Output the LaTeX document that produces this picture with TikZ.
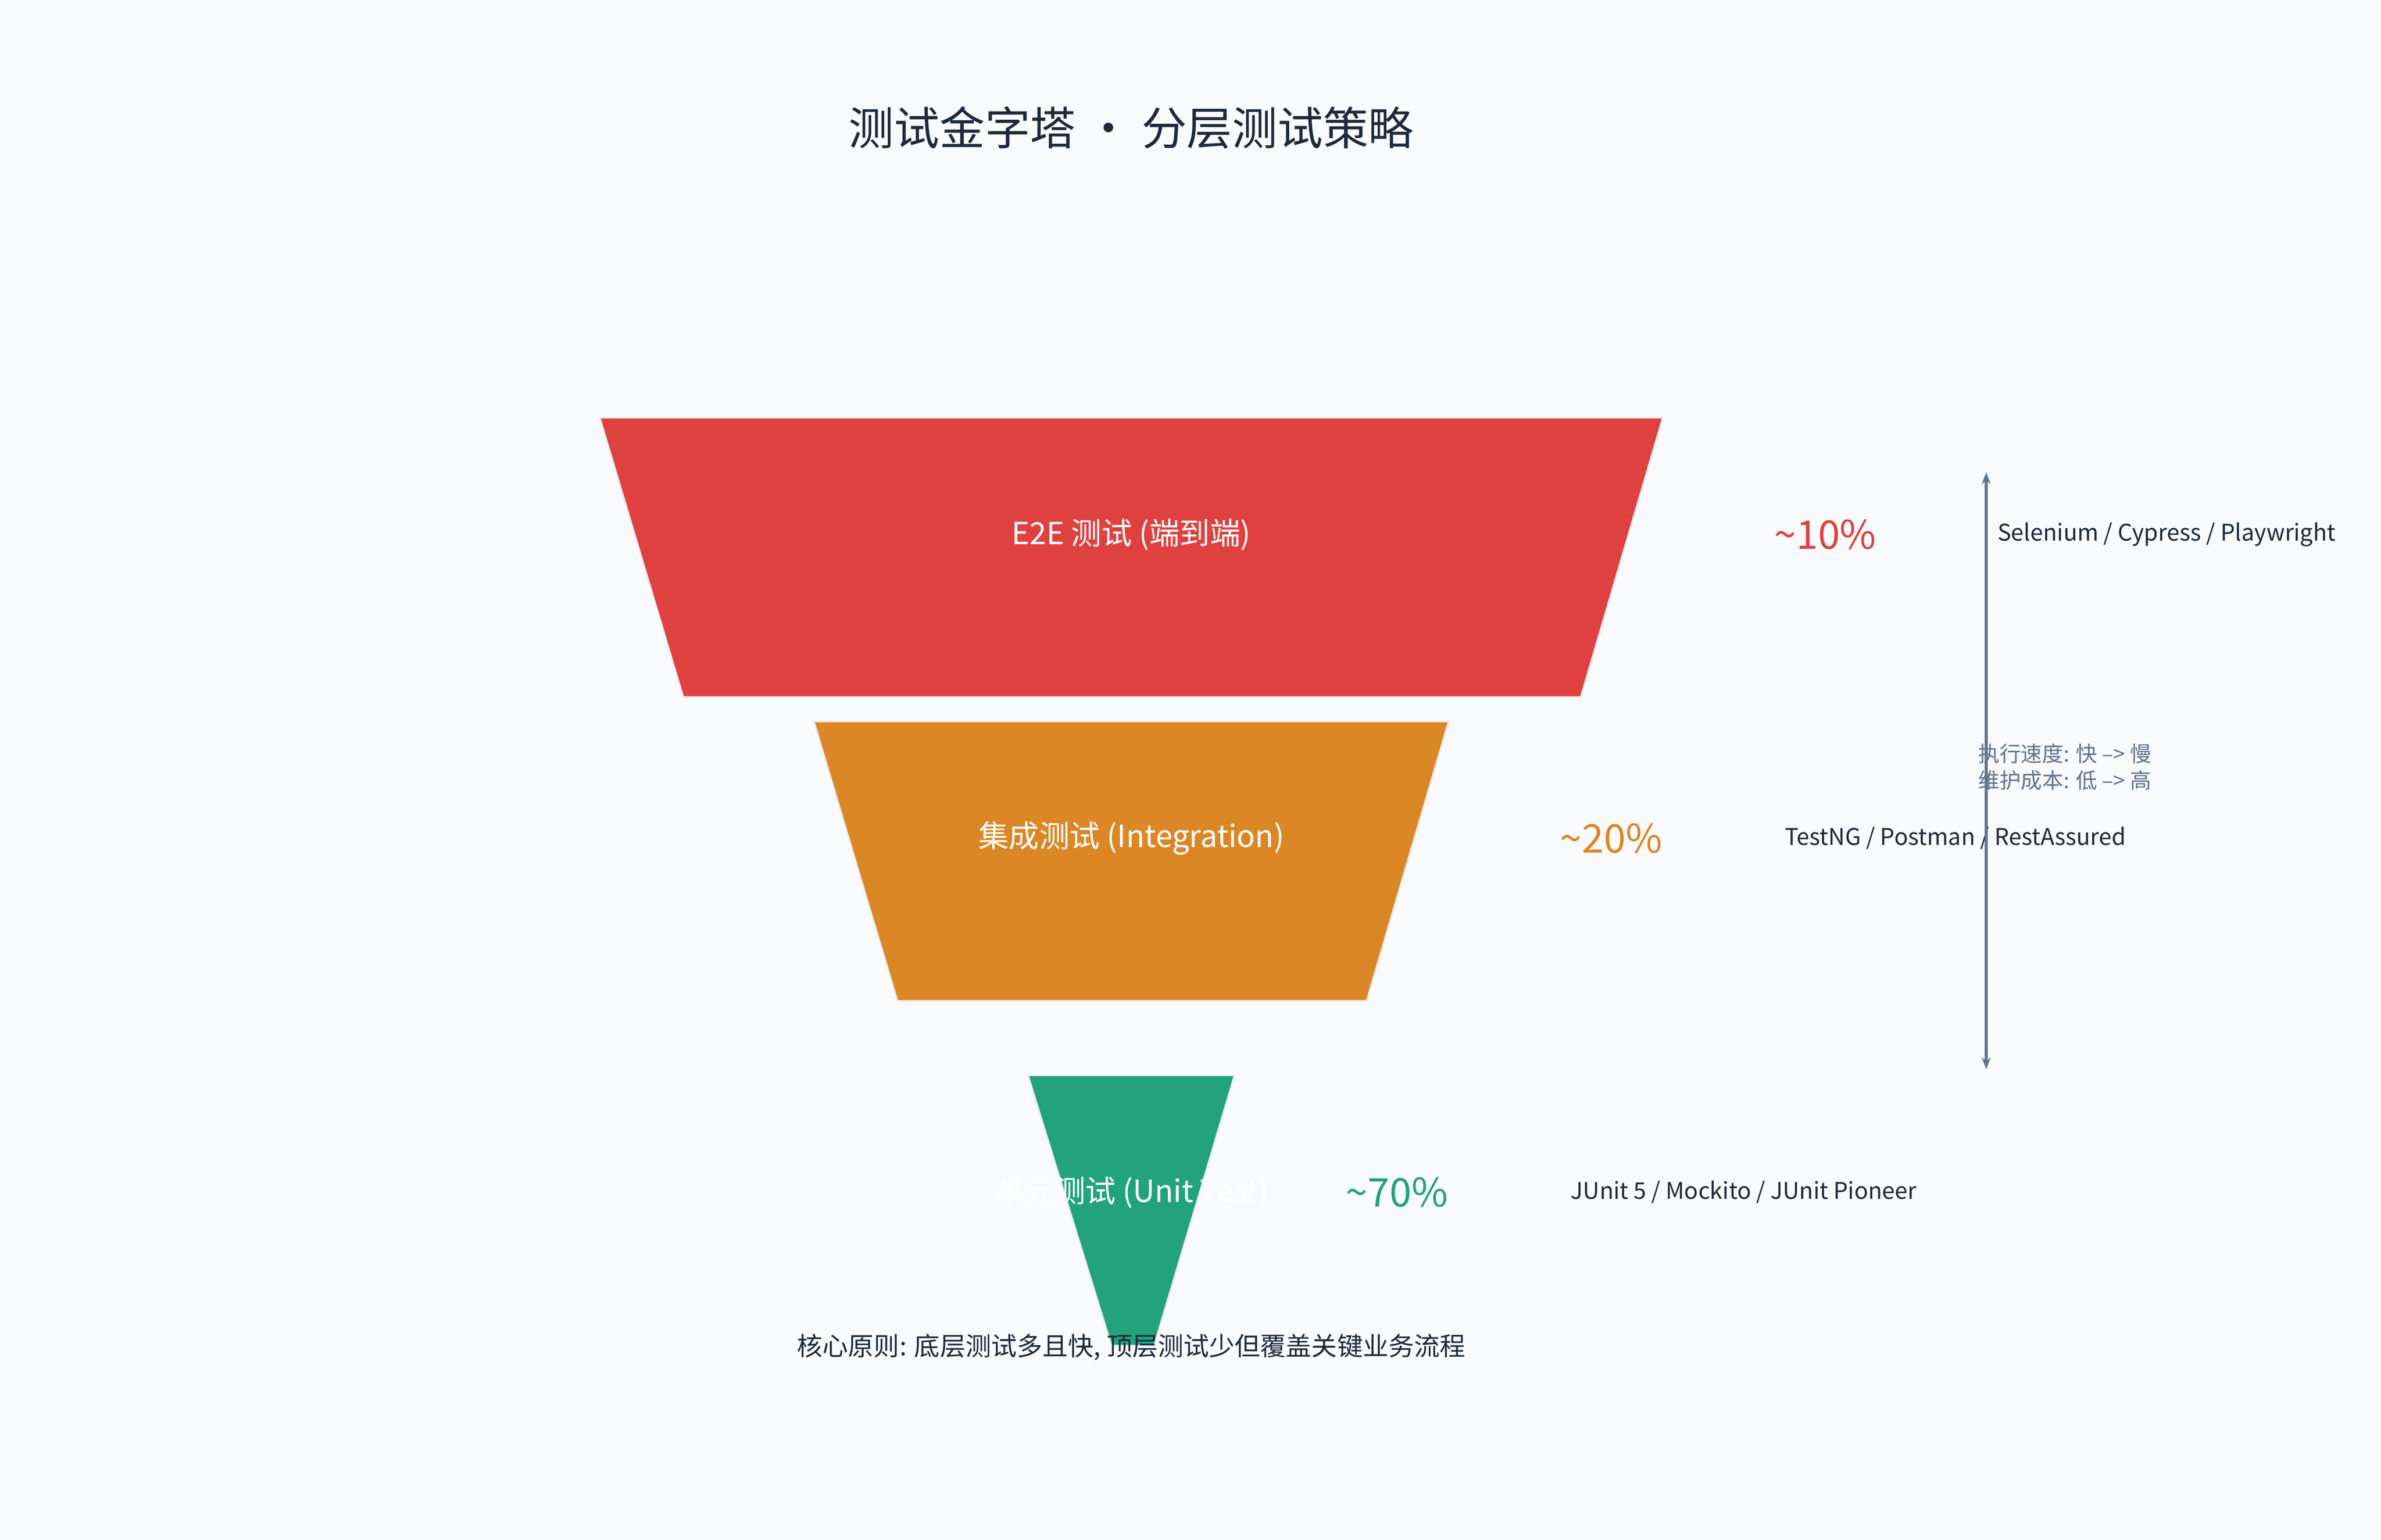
\documentclass[tikz,border=0pt]{standalone}
\usepackage{fontspec}
\setmainfont{Noto Sans CJK SC}
\usetikzlibrary{arrows.meta}
\definecolor{bg}{HTML}{F8FAFC}
\definecolor{cred}{HTML}{DF4141}
\definecolor{corg}{HTML}{DC8726}
\definecolor{cgrn}{HTML}{22A37B}
\definecolor{cdark}{HTML}{1E293B}
\definecolor{cgray}{HTML}{64748B}
\tikzset{
  layer/.style={draw=white!85!gray, line width=0.3pt},
  lbl/.style={text=white, font=\fontsize{5.7pt}{6.5pt}\selectfont},
  pct/.style={font=\fontsize{7.4pt}{8pt}\selectfont},
  tool/.style={anchor=west, text=cdark, font=\fontsize{4.3pt}{5pt}\selectfont},
  note/.style={anchor=west, text=cgray, font=\fontsize{4pt}{5pt}\selectfont, align=left, inner sep=0pt},
}
\begin{document}
\begin{tikzpicture}[x=0.01cm,y=-0.01cm]
\fill[bg] (0,0) rectangle (1568,1014);
\useasboundingbox (0,0) rectangle (1568,1014);
\node[text=cdark, font=\fontsize{8.5pt}{10pt}\selectfont] (title) at (745,84) {测试金字塔 · 分层测试策略};
\path[layer, fill=cred] (395,275) -- (1095,275) -- (1041,459) -- (450,459) -- cycle;
\path[layer, fill=corg] (536,475) -- (954,475) -- (900,659) -- (591,659) -- cycle;
\path[layer, fill=cgrn] (677,708) -- (813,708) -- (760,886) -- (732,886) -- cycle;
\node[lbl] (l1) at (745,352) {E2E 测试 (端到端)};
\node[lbl] (l2) at (745,552) {集成测试 (Integration)};
\node[lbl] (l3) at (745,785) {单元测试 (Unit Test)};
\node[pct, text=cred] (p1) at (1202,352) {\textasciitilde10\%};
\node[pct, text=corg] (p2) at (1061,552) {\textasciitilde20\%};
\node[pct, text=cgrn] (p3) at (920,785) {\textasciitilde70\%};
\node[tool] (t1) at (1303,352) {Selenium / Cypress / Playwright};
\node[tool] (t2) at (1163,552) {TestNG / Postman / RestAssured};
\node[tool] (t3) at (1022,785) {JUnit 5 / Mockito / JUnit Pioneer};
\coordinate (atop) at (1308,311);
\coordinate (abot) at (1308,704);
\draw[cgray, line width=0.6pt, {Stealth[length=2.2pt]}-{Stealth[length=2.2pt]}] (atop) -- (abot);
\node[note] (n1) at (1302,505) {执行速度: 快 --> 慢\\维护成本: 低 --> 高};
\node[text=cdark, font=\fontsize{4.8pt}{5.5pt}\selectfont] (foot) at (745,887) {核心原则: 底层测试多且快, 顶层测试少但覆盖关键业务流程};
\end{tikzpicture}
\end{document}
